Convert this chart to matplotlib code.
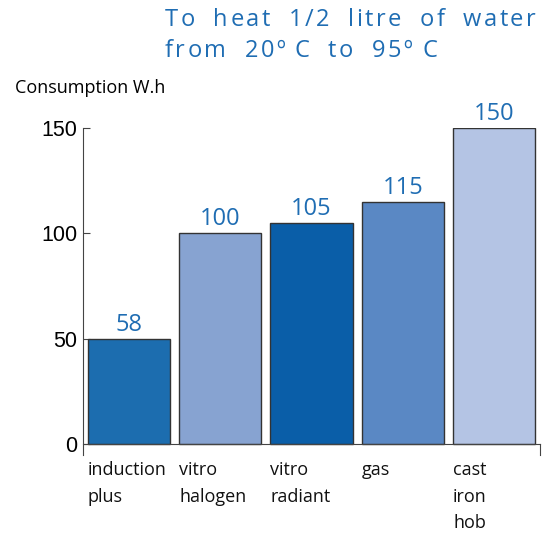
import matplotlib
matplotlib.use('Agg')
import matplotlib.pyplot as plt

# Data
categories = ['induction\nplus', 'vitro\nhalogen', 'vitro\nradiant', 'gas', 'cast\niron\nhob']
heights = [50, 100, 105, 115, 150]
value_labels = ['58', '100', '105', '115', '150']
colors = ['#1c6daf', '#87a3d1', '#0a5ea8', '#5a88c4', '#b4c4e4']
yticks = [0, 50, 100, 150]
title_lines = ['To heat 1/2 litre of water', 'from 20º C to 95º C']

blue = '#1f6db3'
W, H = 547, 533

fig = plt.figure(figsize=(5.47, 5.33), dpi=100)
ax = fig.add_axes([0.152, 0.147, 0.835, 0.613])

x = list(range(len(categories)))
bars = ax.bar(x, heights, width=0.9, color=colors, edgecolor='#333333', linewidth=1, zorder=2)

ax.set_xlim(-0.5, 4.5)
ax.set_ylim(-5, 150)

# value labels above the bars
for b, lab in zip(bars, value_labels):
    ax.text(b.get_x() + b.get_width() / 2, b.get_height() + 1, lab,
            ha='center', va='bottom', color=blue, fontsize=17, family='Open Sans')

# category labels, left aligned under each bar
for b, cat in zip(bars, categories):
    ax.text(b.get_x() + 0.0, -8, cat, ha='left', va='top', fontsize=13,
            family='Open Sans', color='#111111', linespacing=1.62)

# spines
ax.spines['top'].set_visible(False)
ax.spines['bottom'].set_position(('data', 0))
ax.spines['right'].set_bounds(-5, 0)
for s in ['left', 'bottom', 'right']:
    ax.spines[s].set_color('#444444')
ax.set_xticks([])
ax.set_yticks(yticks)
ax.tick_params(axis='y', direction='in', length=5, color='#444444', labelsize=15.5, pad=4)
for t in ax.get_yticklabels():
    t.set_family('Liberation Sans')

fig.text(15 / W, 1 - 88 / H, 'Consumption W.h', ha='left', va='center',
         fontsize=13, family='Open Sans')

# letter-spaced title, drawn char by char
renderer = fig.canvas.get_renderer()


def spaced_text(x0, y0, s, tracking=2.5, space=16):
    xp = x0
    prev = ''
    for ch in s:
        if ch == ' ':
            # the degree sign sits close to the C
            xp += 7 if prev == 'º' else space
            prev = ch
            continue
        t = fig.text(xp / W, 1 - y0 / H, ch, ha='left', va='center',
                     fontsize=17, color=blue, family='Open Sans')
        xp += t.get_window_extent(renderer).width + tracking
        prev = ch


spaced_text(165, 20, title_lines[0])
spaced_text(165, 51, title_lines[1])

fig.savefig('out.png', dpi=100)
